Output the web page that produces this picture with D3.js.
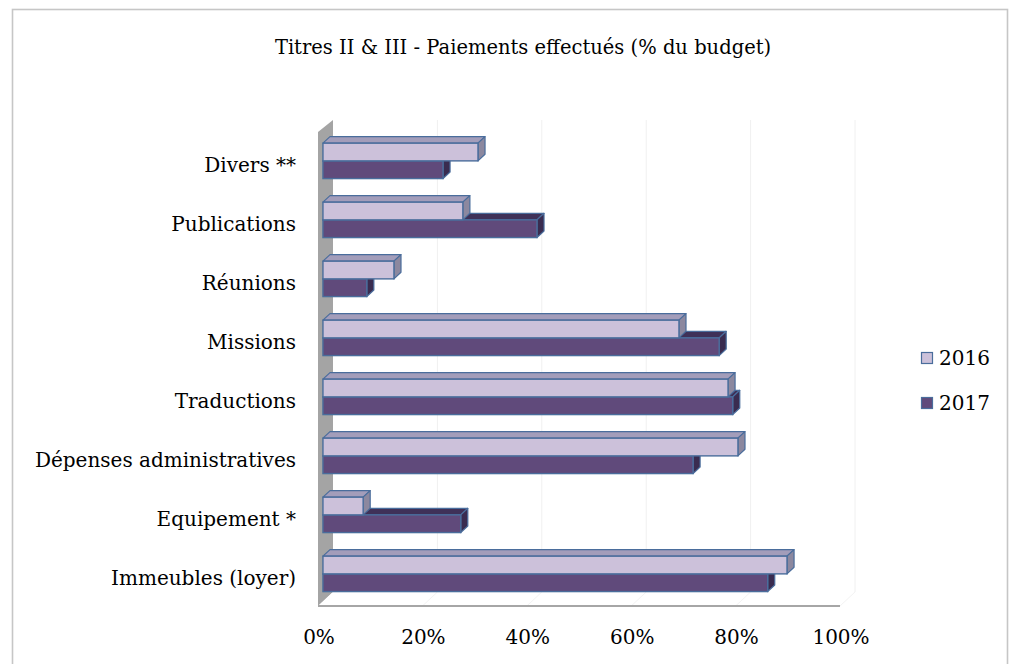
<!DOCTYPE html>
<html><head><meta charset="utf-8">
<script src="https://cdn.jsdelivr.net/npm/d3@7"></script>
<style>
html,body{margin:0;padding:0;background:#fff;}
svg{display:block;}
text{font-family:"DejaVu Serif",serif;fill:#000;}
</style></head>
<body>
<svg id="chart" width="1009" height="664"></svg>
<script>
const title = "Titres II & III - Paiements effectués (% du budget)";
const categories = ["Divers **","Publications","Réunions","Missions","Traductions","Dépenses administratives","Equipement *","Immeubles (loyer)"];
const seriesNames = ["2016","2017"];
const values2016 = [0.297,0.268,0.136,0.682,0.776,0.795,0.077,0.889];
const values2017 = [0.230,0.410,0.084,0.759,0.785,0.709,0.264,0.852];
const tickValues = [0,0.2,0.4,0.6,0.8,1.0];

const colors = {
  "2016": {front:"#ccc1da", top:"#a39dba", side:"#8c889f"},
  "2017": {front:"#604a7b", top:"#3f3158", side:"#3a2c50"}
};
const strokeCol = "#4a6d9c";

const svg = d3.select("#chart");
svg.append("rect").attr("x",12.5).attr("y",9.5).attr("width",995).attr("height",700)
  .attr("fill","none").attr("stroke","#c6c6c6").attr("stroke-width",1.6);

svg.append("text").attr("x",523).attr("y",54).attr("text-anchor","middle")
  .style("font-size","19.5px").text(title);

const x = d3.scaleLinear().domain([0,1]).range([318,840]);
const DX = 15, DY = -14;
const d0 = 0.33, d1 = 0.8;
const wallTop = 132, floorY = 606;

const y = d3.scaleBand().domain(categories).range([136,608]).paddingInner(0.4).paddingOuter(0.2);
const ys = d3.scaleBand().domain(seriesNames).range([0,y.bandwidth()]);

const pts = a=>a.map(p=>p.join(",")).join(" ");
svg.append("polygon").attr("points",pts([[318,wallTop],[318+DX,wallTop+DY+2],[318+DX,floorY+DY],[318,floorY]]))
  .attr("fill","#a4a4a4");
svg.append("polygon").attr("points",pts([[318+DX,floorY+DY],[x(1)+DX,floorY+DY],[x(1),floorY],[318,floorY]]))
  .attr("fill","#fff");
tickValues.slice(1).forEach(t=>{
  svg.append("line").attr("x1",x(t)+DX).attr("x2",x(t)+DX).attr("y1",wallTop+DY+2).attr("y2",floorY+DY)
    .attr("stroke","#f0f0f0").attr("stroke-width",1);
  svg.append("line").attr("x1",x(t)+DX).attr("x2",x(t)).attr("y1",floorY+DY).attr("y2",floorY)
    .attr("stroke","#f3f3f3").attr("stroke-width",1);
});
svg.append("line").attr("x1",318).attr("x2",x(1)).attr("y1",floorY).attr("y2",floorY)
  .attr("stroke","#a6a6a6").attr("stroke-width",2);

function drawBar(g, v, yTop, h, c){
  const fx0 = x(0)+d0*DX, fx1 = x(v)+d0*DX, fy0 = yTop+d0*DY, fy1 = yTop+h+d0*DY;
  const bx0 = x(0)+d1*DX, bx1 = x(v)+d1*DX, by0 = yTop+d1*DY, by1 = yTop+h+d1*DY;
  g.append("polygon").attr("points",pts([[fx0,fy0],[fx1,fy0],[bx1,by0],[bx0,by0]]))
    .attr("fill",c.top).attr("stroke",strokeCol).attr("stroke-width",1.2).attr("stroke-linejoin","round");
  g.append("polygon").attr("points",pts([[fx1,fy0],[bx1,by0],[bx1,by1],[fx1,fy1]]))
    .attr("fill",c.side).attr("stroke",strokeCol).attr("stroke-width",1.2).attr("stroke-linejoin","round");
  g.append("rect").attr("x",fx0).attr("y",fy0).attr("width",fx1-fx0).attr("height",fy1-fy0)
    .attr("fill",c.front).attr("stroke",strokeCol).attr("stroke-width",1.4);
}
const barsG = svg.append("g");
categories.forEach((cat,i)=>{
  const g = barsG.append("g");
  drawBar(g, values2017[i], y(cat)+ys("2017"), ys.bandwidth(), colors["2017"]);
  drawBar(g, values2016[i], y(cat)+ys("2016"), ys.bandwidth(), colors["2016"]);
});

svg.append("g").selectAll("text").data(categories).join("text")
  .attr("x",296).attr("y",d=>y(d)+y.bandwidth()/2+d0*DY+4)
  .attr("text-anchor","end").attr("dominant-baseline","central")
  .style("font-size","20px").text(d=>d);

const fmt = d3.format(".0%");
svg.append("g").selectAll("text").data(tickValues).join("text")
  .attr("x",d=>x(d)+1).attr("y",644).attr("text-anchor","middle")
  .style("font-size","20px").text(d=>fmt(d));

const leg = svg.append("g");
seriesNames.forEach((s,i)=>{
  const ly = 352 + i*45;
  leg.append("rect").attr("x",921.5).attr("y",ly+0.5).attr("width",11).attr("height",11)
    .attr("fill",colors[s].front).attr("stroke",strokeCol).attr("stroke-width",1.2);
  leg.append("text").attr("x",939).attr("y",ly+6).attr("dominant-baseline","central")
    .style("font-size","20px").text(s);
});
</script>
</body></html>
